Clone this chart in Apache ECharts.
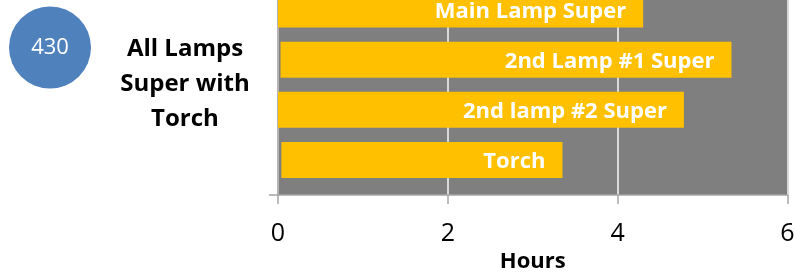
<!DOCTYPE html>
<html>
<head>
<meta charset="utf-8">
<script src="https://cdn.jsdelivr.net/npm/echarts@6/dist/echarts.min.js"></script>
<style>
html, body { margin: 0; padding: 0; background: #fff; }
#chart { width: 795px; height: 274px; }
</style>
</head>
<body>
<div id="chart"></div>
<script>
// lamp runtimes, hours (start offset and end of each bar)
const categories = ["Main Lamp Super", "2nd Lamp #1 Super", "2nd lamp #2 Super", "Torch"]
const startHours = [0, 0.03, 0, 0.04]
const endHours = [4.3, 5.34, 4.78, 3.35]
const xTicks = [0, 2, 4, 6]
const badgeText = "430"
const titleLines = ["All Lamps", "Super with", "Torch"]

const font = "'Open Sans', sans-serif"
const durations = endHours.map((v, i) => +(v - startHours[i]).toFixed(2))

const chart = echarts.init(document.getElementById("chart"))
chart.setOption({
	animation: false,
	textStyle: { fontFamily: font },
	grid: [
		// background + axes
		{ left: 278, right: 7.5, top: -16, bottom: 79, backgroundColor: "#7f7f7f", show: true, borderWidth: 0, outerBoundsMode: "none" },
		// bars
		{ left: 278, right: 7.5, top: -15.5, bottom: 89, outerBoundsMode: "none" },
	],
	xAxis: [
		{
			gridIndex: 0,
			type: "value",
			min: xTicks[0],
			max: xTicks[xTicks.length - 1],
			interval: 2,
			name: "Hours",
			nameLocation: "middle",
			nameGap: 50,
			nameTextStyle: { fontFamily: font, fontSize: 22, fontWeight: "bold", color: "#000" },
			axisLine: { show: true, lineStyle: { color: "#a6a6a6", width: 1.5 } },
			axisTick: { show: true, length: 9, lineStyle: { color: "#a6a6a6", width: 1.5 } },
			axisLabel: { margin: 26, fontFamily: font, fontSize: 25, color: "#000" },
			splitLine: { show: true, lineStyle: { color: "#d9d9d9", width: 2 } },
		},
		{
			gridIndex: 1,
			type: "value",
			min: xTicks[0],
			max: xTicks[xTicks.length - 1],
			show: false,
		},
	],
	yAxis: [
		{
			gridIndex: 0,
			type: "category",
			data: [""],
			axisLine: { show: true, lineStyle: { color: "#a6a6a6", width: 1.5 } },
			axisTick: { show: true, length: 9, lineStyle: { color: "#a6a6a6", width: 1.5 } },
			axisLabel: { show: false },
		},
		{
			gridIndex: 1,
			type: "category",
			data: categories,
			inverse: true,
			show: false,
		},
	],
	series: [
		{
			name: "start",
			type: "bar",
			xAxisIndex: 1,
			yAxisIndex: 1,
			stack: "run",
			barWidth: 36,
			itemStyle: { color: "transparent" },
			data: startHours,
		},
		{
			name: "run",
			type: "bar",
			xAxisIndex: 1,
			yAxisIndex: 1,
			stack: "run",
			barWidth: 36,
			itemStyle: { color: "#ffc000" },
			label: {
				show: true,
				position: "insideRight",
				distance: 17,
				offset: [0, 2],
				formatter: p => categories[p.dataIndex],
				fontFamily: font,
				fontSize: 22,
				fontWeight: "bold",
				color: "#fff",
			},
			data: durations,
		},
	],
	graphic: [
		{
			type: "circle",
			shape: { cx: 50, cy: 47.5, r: 41 },
			style: { fill: "#4f81bd" },
		},
		{
			type: "text",
			x: 50,
			y: 48,
			style: { text: badgeText, fill: "#fff", font: `22px ${font}`, textAlign: "center", textVerticalAlign: "middle" },
		},
		{
			type: "text",
			x: 185,
			y: 84,
			style: {
				text: titleLines.join("\n"),
				fill: "#000",
				font: `bold 24px ${font}`,
				lineHeight: 35,
				textAlign: "center",
				textVerticalAlign: "middle",
			},
		},
	],
})
</script>
</body>
</html>
